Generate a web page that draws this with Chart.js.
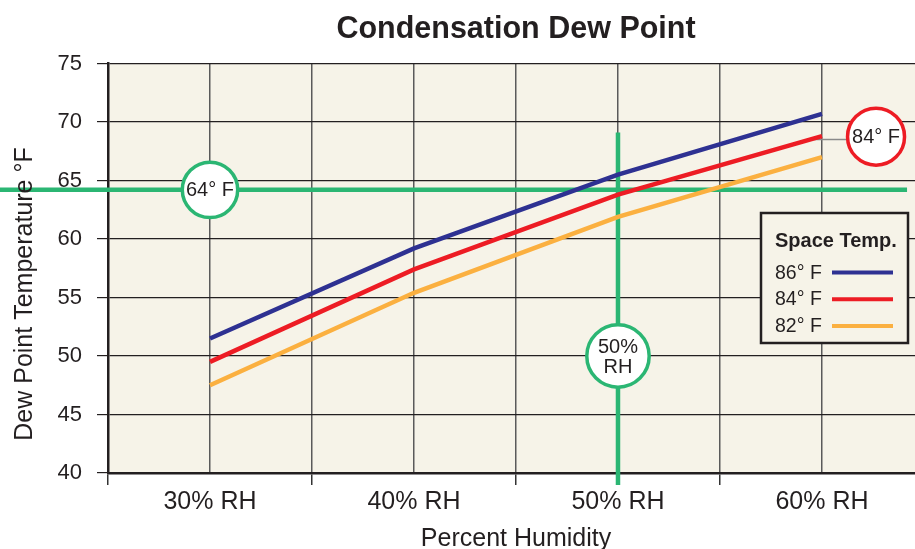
<!DOCTYPE html>
<html>
<head>
<meta charset="utf-8">
<script src="https://cdn.jsdelivr.net/npm/chart.js@4.4.1/dist/chart.umd.min.js"></script>
<style>
  html, body { margin: 0; padding: 0; background: #fff; overflow: hidden; }
  canvas { display: block; }
</style>
</head>
<body>
<canvas id="dewChart" width="915" height="549"></canvas>
<script>
// ----------------------------
// Data
// ----------------------------
const humidity = [30, 40, 50, 60];            // % RH
const spaceTemps = ["86° F", "84° F", "82° F"];
const dew86 = [51.5, 59.2, 65.5, 70.7];
const dew84 = [49.5, 57.4, 63.8, 68.8];
const dew82 = [47.5, 55.4, 61.9, 67.0];
const xGridValues = [25, 30, 35, 40, 45, 50, 55, 60];
const yTickValues = [40, 45, 50, 55, 60, 65, 70, 75];
const dewLimit = 64.2;      // green 64°F line
const rhLimit = 50;         // green 50% RH line

// ----------------------------
// Styles
// ----------------------------
const BG = "#f6f3e8";
const INK = "#231f20";
const GREEN = "#2bb673";
const COLORS = ["#2e3192", "#ed1c24", "#fbb040"];
const FAMILY = '"Liberation Sans", Arial, sans-serif';
const font = (size, bold) => (bold ? "bold " : "") + size + "px " + FAMILY;

function badge(ctx, cx, cy, r, color, lines, size) {
  ctx.beginPath();
  ctx.arc(cx, cy, r, 0, Math.PI * 2);
  ctx.fillStyle = "#fff";
  ctx.fill();
  ctx.lineWidth = 3.5;
  ctx.strokeStyle = color;
  ctx.stroke();
  ctx.fillStyle = INK;
  ctx.font = font(size);
  ctx.textAlign = "center";
  ctx.textBaseline = "middle";
  const lh = size * 1.0;
  lines.forEach((t, i) => ctx.fillText(t, cx, cy + (i - (lines.length - 1) / 2) * lh + 1));
}

// ----------------------------
// Plugin: background, markers, legend, titles
// ----------------------------
const decor = {
  id: "decor",
  beforeDraw(chart) {
    const { ctx, chartArea: a } = chart;
    ctx.save();
    ctx.fillStyle = BG;
    ctx.fillRect(a.left, a.top, a.right - a.left, a.bottom - a.top);
    ctx.restore();
  },
  beforeDatasetsDraw(chart) {
    const { ctx, scales: { x, y } } = chart;
    ctx.save();
    ctx.strokeStyle = GREEN;
    ctx.lineWidth = 4.5;
    // 64°F line runs across the whole picture
    const yy = y.getPixelForValue(dewLimit);
    ctx.beginPath();
    ctx.moveTo(0, yy);
    ctx.lineTo(x.getPixelForValue(64.17), yy);
    ctx.stroke();
    // 50% RH line
    const xx = x.getPixelForValue(rhLimit);
    ctx.beginPath();
    ctx.moveTo(xx, y.getPixelForValue(69.1));
    ctx.lineTo(xx, y.bottom + 12);
    ctx.stroke();
    // leader to 84°F badge
    ctx.strokeStyle = "#8a8a8a";
    ctx.lineWidth = 1.5;
    const ly = y.getPixelForValue(68.5);
    ctx.beginPath();
    ctx.moveTo(x.getPixelForValue(59.3), ly);
    ctx.lineTo(x.getPixelForValue(62.6), ly);
    ctx.stroke();
    ctx.restore();
  },
  afterDraw(chart) {
    const { ctx, scales: { x, y } } = chart;
    ctx.save();

    badge(ctx, x.getPixelForValue(30), y.getPixelForValue(dewLimit), 27.7, GREEN, ["64° F"], 20);
    badge(ctx, x.getPixelForValue(rhLimit), y.getPixelForValue(50), 31.2, GREEN, ["50%", "RH"], 20);
    badge(ctx, x.getPixelForValue(62.65), y.getPixelForValue(68.75), 28.5, COLORS[1], ["84° F"], 20);

    // legend box
    ctx.fillStyle = BG;
    ctx.fillRect(761, 213, 147, 130);
    ctx.lineWidth = 2.5;
    ctx.strokeStyle = INK;
    ctx.strokeRect(761, 213, 147, 130);
    ctx.fillStyle = INK;
    ctx.textAlign = "left";
    ctx.textBaseline = "alphabetic";
    ctx.font = font(20, true);
    ctx.fillText("Space Temp.", 775, 247);
    chart.data.datasets.forEach((ds, i) => {
      const base = 278.5 + i * 26.7;
      ctx.fillStyle = INK;
      ctx.font = font(19.5);
      ctx.fillText(ds.label, 775, base);
      ctx.strokeStyle = ds.borderColor;
      ctx.lineWidth = 4;
      ctx.beginPath();
      ctx.moveTo(832, base - 6);
      ctx.lineTo(893, base - 6);
      ctx.stroke();
    });

    // chart title
    ctx.fillStyle = INK;
    ctx.textAlign = "center";
    ctx.font = font(30.5, true);
    ctx.fillText("Condensation Dew Point", 516, 38);

    // axis titles
    ctx.font = font(25);
    ctx.fillText("Percent Humidity", 516, 546);
    ctx.translate(31.5, 294);
    ctx.rotate(-Math.PI / 2);
    ctx.fillText("Dew Point Temperature °F", 0, 0);
    ctx.restore();
  }
};

// ----------------------------
// Chart
// ----------------------------
const toPoints = vals => vals.map((v, i) => ({ x: humidity[i], y: v }));
const dewSeries = [dew86, dew84, dew82];

new Chart(document.getElementById("dewChart"), {
  type: "line",
  data: {
    datasets: dewSeries.map((vals, i) => ({
      label: spaceTemps[i],
      data: toPoints(vals),
      borderColor: COLORS[i],
      borderWidth: 4.5,
      pointRadius: 0,
      tension: 0,
      borderCapStyle: "butt"
    }))
  },
  options: {
    responsive: false,
    animation: false,
    layout: { padding: { top: 63.5, left: 0, right: 0, bottom: 0 } },
    plugins: { legend: { display: false }, tooltip: { enabled: false }, title: { display: false } },
    scales: {
      x: {
        type: "linear",
        min: 25,
        max: 64.56,
        afterBuildTicks: s => { s.ticks = xGridValues.map(v => ({ value: v })); },
        afterFit: s => { s.height = 76; },
        ticks: {
          autoSkip: false,
          maxRotation: 0,
          padding: 2,
          color: INK,
          font: { family: FAMILY, size: 25 },
          callback: v => (v % 10 === 0 ? v + "% RH" : "")
        },
        grid: {
          color: "#5a5a5a",
          lineWidth: 1.5,
          tickLength: 12,
          tickColor: c => (c.tick && c.tick.value % 10 === 5 ? "#333" : "rgba(0,0,0,0)")
        },
        border: { color: INK, width: 2.5 }
      },
      y: {
        min: 40,
        max: 75,
        afterBuildTicks: s => { s.ticks = yTickValues.map(v => ({ value: v })); },
        afterFit: s => { s.width = 108; },
        ticks: {
          padding: 15,
          color: INK,
          font: { family: FAMILY, size: 22 }
        },
        grid: {
          color: INK,
          lineWidth: 1.2,
          tickLength: 11,
          tickColor: INK
        },
        border: { color: INK, width: 2.5 }
      }
    }
  },
  plugins: [decor]
});
</script>
</body>
</html>
